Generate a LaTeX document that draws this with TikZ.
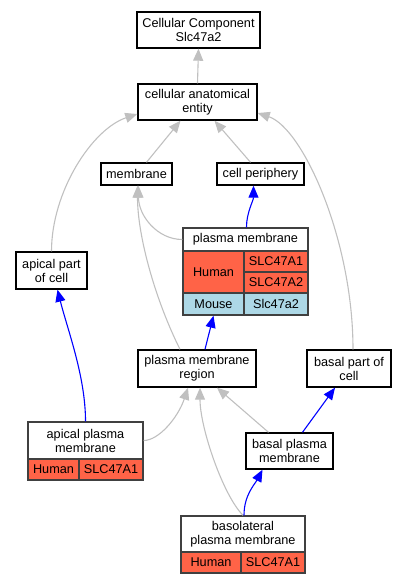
\documentclass[tikz,border=0pt]{standalone}
\usepackage{fontspec}
\setmainfont{Liberation Sans}
\usetikzlibrary{arrows.meta}
\definecolor{tomato}{HTML}{FF6347}
\definecolor{lightblue}{HTML}{ADD8E6}
\definecolor{edgegray}{HTML}{C0C0C0}
\tikzset{
  term/.style={draw=black, line width=1.4pt, fill=white, align=center, inner sep=0pt, font=\fontsize{12.7}{14}\selectfont},
  cell/.style={draw=black!75, line width=1.4pt, inner sep=0pt, align=center, font=\fontsize{12.7}{14}\selectfont},
  isa/.style={draw=edgegray, line width=1.1pt, -{Triangle[length=12pt,width=10pt]}},
  partof/.style={draw=blue, line width=1.1pt, -{Triangle[length=12pt,width=10pt]}}
}
\begin{document}
\begin{tikzpicture}[x=1pt,y=-1pt]
\useasboundingbox (0,0) rectangle (407,584);

\node [term, minimum width=123pt, minimum height=36pt] (cc) at (198.5,30) {Cellular Component\\Slc47a2};
\node [term, minimum width=119pt, minimum height=36pt] (cae) at (197.5,102) {cellular anatomical\\entity};
\node [term, minimum width=71pt, minimum height=22pt] (memb) at (136.5,174) {membrane};
\node [term, minimum width=87pt, minimum height=22pt] (cp) at (260.5,174) {cell periphery};
\node [term, minimum width=71pt, minimum height=37pt] (apc) at (51.5,270.5) {apical part\\of cell};
\node [term, minimum width=118pt, minimum height=37pt] (pmr) at (197,368.5) {plasma membrane\\region};
\node [term, minimum width=84pt, minimum height=37pt] (bpc) at (349,368.5) {basal part of\\cell};
\node [term, minimum width=87pt, minimum height=36pt] (bpm) at (289.5,451) {basal plasma\\membrane};

\node [cell, fill=white, minimum width=125pt, minimum height=23pt] (pm) at (245.5,239.5) {plasma membrane};
\node [cell, fill=tomato, minimum width=61pt, minimum height=42pt] (pmHuman) at (213.5,272) {Human};
\node [cell, fill=tomato, minimum width=64pt, minimum height=21pt] (pmSlcA1) at (276,261.5) {SLC47A1};
\node [cell, fill=tomato, minimum width=64pt, minimum height=21pt] (pmSlcA2) at (276,282.5) {SLC47A2};
\node [cell, fill=lightblue, minimum width=61pt, minimum height=22pt] (pmMouse) at (213.5,304) {Mouse};
\node [cell, fill=lightblue, minimum width=64pt, minimum height=22pt] (pmSlcMouse) at (276,304) {Slc47a2};

\node [cell, fill=white, minimum width=115pt, minimum height=37pt] (apm) at (85.5,440.5) {apical plasma\\membrane};
\node [cell, fill=tomato, minimum width=51pt, minimum height=21pt] (apmHuman) at (53.5,469.5) {Human};
\node [cell, fill=tomato, minimum width=64pt, minimum height=21pt] (apmSlc) at (111,469.5) {SLC47A1};

\node [cell, fill=white, minimum width=124pt, minimum height=36pt] (blm) at (243,534) {basolateral\\plasma membrane};
\node [cell, fill=tomato, minimum width=60pt, minimum height=21pt] (blmHuman) at (211,562.5) {Human};
\node [cell, fill=tomato, minimum width=64pt, minimum height=21pt] (blmSlc) at (273,562.5) {SLC47A1};

\draw [isa] (cae.north) -- (cc.south);
\draw [isa] ([xshift=10pt]memb.north) -- ([xshift=-17pt]cae.south);
\draw [isa] ([xshift=-10pt]cp.north) -- ([xshift=17pt]cae.south);
\draw [isa] (apc.north) .. controls +(0,-60) and +(-45,15) .. ([yshift=-12pt]cae.west);
\draw [isa] ([xshift=4pt]bpc.north) .. controls +(0,-110) and +(45,15) .. ([yshift=-11pt]cae.east);
\draw [isa] (pm.west) .. controls +(-25,0) and +(0,30) .. ([xshift=2pt]memb.south);
\draw [isa] ([xshift=-17pt]pmr.north) .. controls +(-25,-50) and +(0,50) .. ([xshift=1pt]memb.south);
\draw [partof] ([xshift=1pt]pm.north) .. controls +(0,-15) and +(0,15) .. ([xshift=-7pt]cp.south);
\draw [partof] ([xshift=8pt]pmr.north) -- (pmMouse.south);
\draw [partof] (apm.north) .. controls +(0,-45) and +(10,40) .. ([xshift=6pt]apc.south);
\draw [isa] (apm.east) .. controls +(15,0) and +(-10,30) .. ([xshift=-9pt]pmr.south);
\draw [isa] ([xshift=-21pt]bpm.north) -- ([xshift=20pt]pmr.south);
\draw [partof] ([xshift=13pt]bpm.north) -- ([xshift=-14pt]bpc.south);
\draw [isa] (blm.north) .. controls +(-20,-20) and +(0,40) .. ([xshift=3pt]pmr.south);
\draw [partof] ([xshift=1pt]blm.north) .. controls +(0,-20) and +(-8,15) .. ([xshift=-27pt]bpm.south);

\end{tikzpicture}
\end{document}
